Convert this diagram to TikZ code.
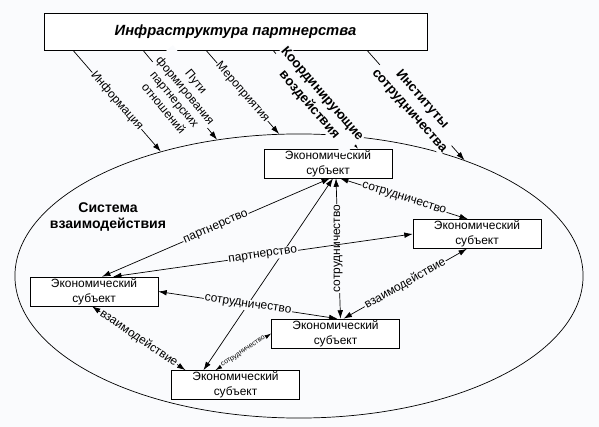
\documentclass[tikz,border=0pt]{standalone}
\usepackage{fontspec}
\setmainfont{Liberation Sans}
\usepackage{tikz}
\usetikzlibrary{shapes.geometric,calc,arrows.meta}
\definecolor{bgcol}{RGB}{250,251,253}
\tikzstyle{boxes} = [rectangle, minimum width=3.2cm, minimum height=0.725cm, text centered, align=center,
draw=black, fill=white, inner sep=1pt, font=\fontsize{8.5}{10.6}\selectfont]
\tikzstyle{arrow} = [->, >={Latex[length=6pt,width=4pt]}, line width=0.5pt]
\tikzstyle{biarrow} = [<->, >={Latex[length=6pt,width=4pt]}, line width=0.5pt]
\tikzstyle{linktext} = [midway, sloped, fill=bgcol, inner sep=0.6pt, align=center, font=\fontsize{8.5}{10}\selectfont]
\tikzstyle{boldtext} = [midway, sloped, fill=bgcol, inner sep=0.6pt, align=center, font=\bfseries\fontsize{9.5}{12}\selectfont]

\begin{document}
\begin{tikzpicture}[x=0.025cm, y=-0.025cm]
            \fill[bgcol] (0,0) rectangle (599,427);
            \useasboundingbox (0,0) rectangle (599,427);
            % the system and the infrastructure
            \node(sys) [draw, ellipse, minimum width=14.2cm, minimum height=7.1cm, inner sep=0, line width=0.5pt] at (299,276) {};
            \node(infra) [boxes, minimum width=9.575cm, minimum height=0.925cm, font=\bfseries\itshape\fontsize{10.5}{12}\selectfont] at (235.5,31.5) {Инфраструктура партнерства};
            \node(title) [align=center, font=\bfseries\fontsize{10}{12}\selectfont] at (108,217) {Система\\взаимодействия};
            % economic subjects
            \node(e1) [boxes] at (328,163.5) {Экономический\\субъект};
            \node(e2) [boxes] at (477,234) {Экономический\\субъект};
            \node(e3) [boxes] at (94,291.5) {Экономический\\субъект};
            \node(e4) [boxes] at (335.5,333.5) {Экономический\\субъект};
            \node(e5) [boxes] at (235.5,385) {Экономический\\субъект};
            % from the infrastructure
            \draw[arrow] ($(infra.south)+(-162.5,0)$) -- (sys.138) node[linktext] {Информация};
            \draw[arrow] ($(infra.south)+(-92.5,0)$) -- (sys.121) node[linktext] {Пути\\формирования\\партнерских\\отношений};
            \draw[arrow] ($(infra.south)+(-29.5,0)$) -- (sys.98) node[linktext] {Мероприятия};
            \draw[arrow] ($(infra.south)+(37.5,0)$) -- ($(e1.north)+(30,0)$) node[boldtext] {Координирующие\\воздействия};
            \draw[arrow] ($(infra.south)+(131.5,0)$) -- (sys.35.5) node[boldtext] {Институты\\сотрудничества};
            % links between subjects
            \draw[biarrow] ($(e1.south)+(12,0)$) -- ($(e2.north)+(-9,0)$) node[linktext] {сотрудничество};
            \draw[biarrow] ($(e3.north)+(8,0)$) -- ($(e1.south)+(2,0)$) node[linktext] {партнерство};
            \draw[biarrow] ($(e5.north)+(-32,0)$) -- ($(e1.south)+(5,0)$);
            \draw[biarrow] ($(e4.north)+(5,0)$) -- ($(e1.south)+(8,0)$) node[linktext, sloped=false, rotate=90] {сотрудничество};
            \draw[biarrow] ($(e3.north)+(19,0)$) -- (e2.west) node[linktext] {партнерство};
            \draw[biarrow] (e3.east) -- ($(e4.north)+(2,0)$) node[linktext] {сотрудничество};
            \draw[biarrow] ($(e3.south)+(-2,0)$) -- ($(e5.north)+(-50,0)$) node[linktext] {взаимодействие};
            \draw[biarrow] ($(e4.north)+(8,0)$) -- ($(e2.south)+(-10,0)$) node[linktext] {взаимодействие};
            \draw[biarrow] ($(e5.north)+(-20,0)$) -- (e4.west) node[linktext, font=\fontsize{5}{6}\selectfont] {сотрудничество};
        \end{tikzpicture}
\end{document}
